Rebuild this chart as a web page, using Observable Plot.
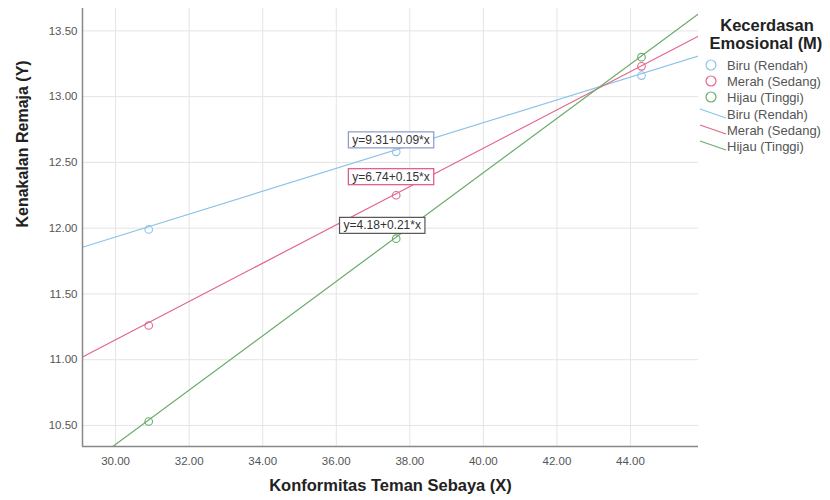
<!DOCTYPE html>
<html>
<head>
<meta charset="utf-8">
<script src="https://cdn.jsdelivr.net/npm/d3@7"></script>
<script src="https://cdn.jsdelivr.net/npm/@observablehq/plot@0.6"></script>
<style>
  html, body { margin: 0; padding: 0; background: #fff; }
  #chart { position: relative; width: 830px; height: 500px; }
</style>
</head>
<body>
<div id="chart"></div>
<script>
// ---- data ----
const groups = ["Biru (Rendah)", "Merah (Sedang)", "Hijau (Tinggi)"];
const colors = ["#8cc3e8", "#e0668a", "#6aab6a"];
const labelBorders = ["#8a98c4", "#e0508a", "#555555"];
const pointX = [30.9, 37.63, 44.3];
const blueY = [11.99, 12.58, 13.16];
const redY = [11.26, 12.25, 13.23];
const greenY = [10.53, 11.92, 13.30];
const fitX = [29.1, 45.85];
const blueFit = [11.855, 13.31];
const redFit = [11.02, 13.46];
const greenFit = [10.17, 13.63];
const eqLabels = ["y=9.31+0.09*x", "y=6.74+0.15*x", "y=4.18+0.21*x"];
const eqX = [37.49, 37.49, 37.25];
const eqY = [12.67, 12.39, 12.02];
const xTicks = [30, 32, 34, 36, 38, 40, 42, 44];
const yTicks = [10.5, 11.0, 11.5, 12.0, 12.5, 13.0, 13.5];
const xDomain = [29.1, 45.85];
const yDomain = [10.34, 13.67];

const seriesY = [blueY, redY, greenY];
const fitY = [blueFit, redFit, greenFit];
const points = groups.flatMap((g, i) => pointX.map((x, j) => ({group: g, x, y: seriesY[i][j]})));
const fits = groups.flatMap((g, i) => fitX.map((x, j) => ({group: g, x, y: fitY[i][j]})));
const eqs = eqLabels.map((t, i) => ({text: t, x: eqX[i], y: eqY[i], group: groups[i]}));

const font = "'Liberation Sans', Arial, sans-serif";

const chart = Plot.plot({
  width: 830,
  height: 500,
  marginLeft: 82,
  marginRight: 132,
  marginTop: 8,
  marginBottom: 54,
  style: {fontFamily: font, fontSize: "11px", color: "#444", background: "#fff"},
  x: {domain: xDomain, ticks: xTicks},
  y: {domain: yDomain, ticks: yTicks},
  color: {domain: groups, range: colors},
  marks: [
    Plot.gridX(xTicks, {stroke: "#e4e4e4", strokeOpacity: 1}),
    Plot.gridY(yTicks, {stroke: "#e4e4e4", strokeOpacity: 1}),
    Plot.axisX(xTicks, {tickSize: 0, tickPadding: 10, tickFormat: ".2f", label: null, fill: "#555", fontSize: 11.5}),
    Plot.axisY(yTicks, {tickSize: 0, tickPadding: 5, tickFormat: ".2f", label: null, fill: "#555", fontSize: 11.5}),
    Plot.line(fits, {x: "x", y: "y", stroke: "group", strokeWidth: 1.2, clip: true}),
    Plot.dot(points, {x: "x", y: "y", stroke: "group", r: 3.8, strokeWidth: 1.1, fill: "none"}),
    Plot.ruleX([xDomain[0]], {stroke: "#888", strokeWidth: 1.5}),
    Plot.ruleY([yDomain[0]], {stroke: "#888", strokeWidth: 1.5}),
    Plot.text(eqs, {x: "x", y: "y", text: "text", fontSize: 12, fill: "#333", className: "eqlabel"}),
    Plot.text(["Konformitas Teman Sebaya (X)"], {frameAnchor: "bottom", dy: 44, fontSize: 16.5, fontWeight: "bold", fill: "#222"}),
    Plot.text(["Kenakalan Remaja (Y)"], {frameAnchor: "left", dx: -60, rotate: -90, fontSize: 16, fontWeight: "bold", fill: "#222"})
  ]
});

document.getElementById("chart").appendChild(chart);

// boxes behind the equation labels
d3.select(chart).selectAll("g.eqlabel text").each(function(d, i) {
  const bb = this.getBBox();
  const tr = this.getAttribute("transform");
  const r = d3.select(this.parentNode).insert("rect", () => this)
    .attr("x", bb.x - 4).attr("y", bb.y - 1)
    .attr("width", bb.width + 8).attr("height", bb.height + 2)
    .attr("fill", "#fff")
    .attr("stroke", labelBorders[i])
    .attr("stroke-width", 1.2);
  if (tr) r.attr("transform", tr);
});

// legend
const svg = d3.select(chart);
const lg = svg.append("g").attr("font-family", font).attr("text-anchor", "start");
lg.append("text").attr("x", 767).attr("y", 31).attr("text-anchor", "middle")
  .attr("font-size", 16.5).attr("font-weight", "bold").attr("fill", "#222").text("Kecerdasan");
lg.append("text").attr("x", 766).attr("y", 49).attr("text-anchor", "middle")
  .attr("font-size", 16.5).attr("font-weight", "bold").attr("fill", "#222").text("Emosional (M)");
const itemY1 = [65, 81, 97];
const itemY2 = [114, 130, 146];
groups.forEach((g, i) => {
  lg.append("circle").attr("cx", 711).attr("cy", itemY1[i]).attr("r", 5)
    .attr("fill", "none").attr("stroke", colors[i]).attr("stroke-width", 1.2);
  lg.append("text").attr("x", 727).attr("y", itemY1[i] + 4.5).attr("font-size", 13)
    .attr("fill", "#555").text(g);
  lg.append("line").attr("x1", 700).attr("y1", itemY2[i] - 5).attr("x2", 726).attr("y2", itemY2[i] + 4)
    .attr("stroke", colors[i]).attr("stroke-width", 1.2);
  lg.append("text").attr("x", 727).attr("y", itemY2[i] + 4.5).attr("font-size", 13)
    .attr("fill", "#555").text(g);
});
</script>
</body>
</html>
